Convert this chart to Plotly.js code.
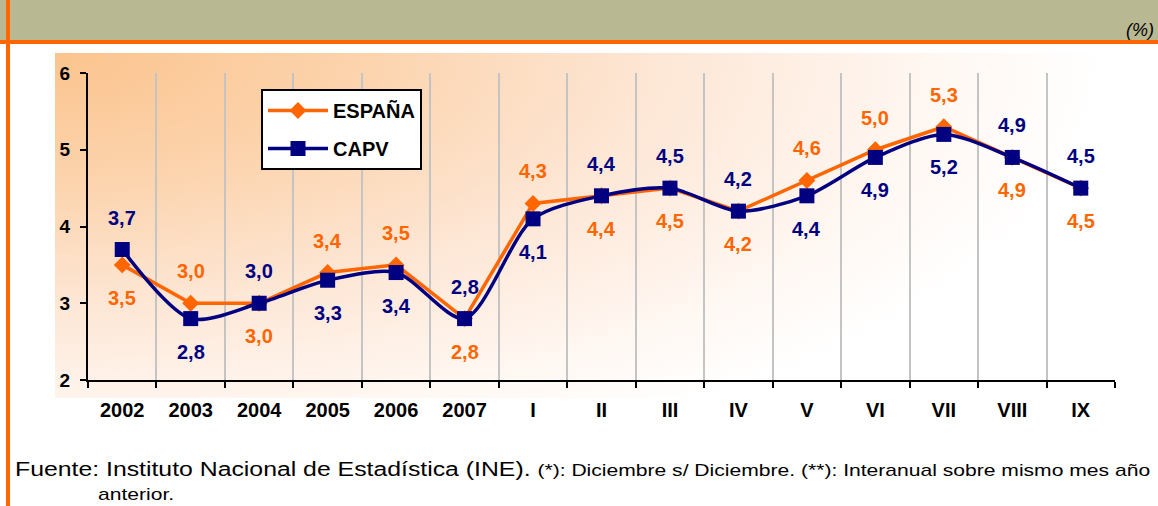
<!DOCTYPE html>
<html>
<head>
<meta charset="utf-8">
<script src="https://cdn.plot.ly/plotly-3.0.1.min.js"></script>
<style>
  html, body { margin: 0; padding: 0; background: #ffffff; }
  #wrap { position: relative; width: 1158px; height: 506px; overflow: hidden; }
  #bg { position: absolute; left: 55px; top: 53px; width: 1103px; height: 345px;
        background: radial-gradient(ellipse 1050px 440px at 0% 0%, #fbc48e 0%, #fcd4ae 30%, #fde7d6 58%, #fff6f0 82%, #ffffff 100%); }
  #chart { position: absolute; left: 0; top: 0; width: 1158px; height: 506px; }
  .foot { position: absolute; white-space: nowrap; font-family: Arial, "Liberation Sans", sans-serif;
          color: #000; transform-origin: 0 0; transform: scaleX(1.24); }
  #foot1 { left: 15px; top: 459px; font-size: 20px; line-height: 20px; }
  #foot1 span { font-size: 17px; }
  #foot2 { left: 98px; top: 486px; font-size: 17px; line-height: 17px; }
</style>
</head>
<body>
<div id="wrap">
  <div id="bg"></div>
  <div id="chart"></div>
  <div class="foot" id="foot1">Fuente: Instituto Nacional de Estadística (INE). <span>(*): Diciembre s/ Diciembre. (**): Interanual sobre mismo mes año</span></div>
  <div class="foot" id="foot2">anterior.</div>
</div>
<script>
// ---- data ----
const categories = ['2002','2003','2004','2005','2006','2007','I','II','III','IV','V','VI','VII','VIII','IX'];
const espana = [3.5, 3.0, 3.0, 3.4, 3.5, 2.8, 4.3, 4.4, 4.5, 4.2, 4.6, 5.0, 5.3, 4.9, 4.5];
const capv   = [3.7, 2.8, 3.0, 3.3, 3.4, 2.8, 4.1, 4.4, 4.5, 4.2, 4.4, 4.9, 5.2, 4.9, 4.5];
const espanaLabelSide = ['below','above','below','above','above','below','above','below','below','below','above','above','above','below','below'];
const capvLabelSide   = ['above','below','above','below','below','above','below','above','above','above','below','below','below','above','above'];
const seriesNames = ['ESPAÑA', 'CAPV'];
const yTicks = [2, 3, 4, 5, 6];

// ---- layout helpers (pixel -> paper) ----
const W = 1158, H = 506, L = 88, R = 1115, T = 73, B = 380;
const px = v => (v - L) / (R - L);
const py = v => (B - v) / (B - T);

const ORANGE = '#ff6600', NAVY = '#000080';
const FONT = 'Arial, "Liberation Sans", sans-serif';

const fmt = v => v.toFixed(1).replace('.', ',');

const traces = [
  {
    name: seriesNames[0], legendgroup: 'a', x: categories, y: espana, type: 'scatter', mode: 'lines+markers',
    line: { color: ORANGE, width: 3.5 },
    marker: { symbol: 'diamond', size: 13, color: ORANGE },
    hoverinfo: 'x+y'
  },
  {
    name: seriesNames[1], legendgroup: 'b', x: categories, y: capv, type: 'scatter', mode: 'lines+markers',
    line: { color: NAVY, width: 3.5, shape: 'spline', smoothing: 0.8 },
    marker: { symbol: 'square', size: 15, color: NAVY },
    hoverinfo: 'x+y'
  }
];

const annotations = [];
function addLabels(vals, sides, color) {
  vals.forEach((v, i) => {
    annotations.push({
      x: i, y: v, xref: 'x', yref: 'y', text: fmt(v), showarrow: false,
      yshift: sides[i] === 'above' ? 32 : -33,
      font: { family: FONT, size: 20, color: color, weight: 'bold' }
    });
  });
}
addLabels(espana, espanaLabelSide, ORANGE);
addLabels(capv, capvLabelSide, NAVY);

annotations.push({
  xref: 'paper', yref: 'paper', x: px(1156), y: py(30), xanchor: 'right', yanchor: 'middle',
  text: '<i>(%)</i>', showarrow: false, font: { family: FONT, size: 18, color: '#000' }
});

const shapes = [
  { type: 'rect', xref: 'paper', yref: 'paper', x0: px(0), x1: px(W), y0: py(40), y1: py(0),
    fillcolor: '#b8b893', line: { width: 0 }, layer: 'below' },
  { type: 'rect', xref: 'paper', yref: 'paper', x0: px(0), x1: px(W), y0: py(44), y1: py(40),
    fillcolor: ORANGE, line: { width: 0 }, layer: 'below' },
  { type: 'rect', xref: 'paper', yref: 'paper', x0: px(6), x1: px(10), y0: py(H), y1: py(0),
    fillcolor: ORANGE, line: { width: 0 }, layer: 'below' }
];

const layout = {
  width: W, height: H,
  margin: { l: L, r: W - R, t: T, b: H - B, pad: 0 },
  paper_bgcolor: 'rgba(0,0,0,0)', plot_bgcolor: 'rgba(0,0,0,0)',
  font: { family: FONT, color: '#000' },
  showlegend: true,
  legend: {
    x: px(261), y: py(89), xanchor: 'left', yanchor: 'top',
    bgcolor: '#ffffff', bordercolor: '#000000', borderwidth: 2,
    font: { family: FONT, size: 20, color: '#000', weight: 'bold' },
    itemwidth: 60, tracegroupgap: 9, traceorder: 'grouped'
  },
  xaxis: {
    type: 'category', range: [-0.5, 14.5], tickson: 'boundaries',
    showgrid: true, gridcolor: '#c4c4c4', gridwidth: 2,
    showline: true, linecolor: '#000', linewidth: 2,
    ticks: 'outside', ticklen: 6, tickwidth: 2, tickcolor: '#000',
    tickfont: { family: FONT, size: 20, color: '#000', weight: 'bold' },
    ticklabelstandoff: 11, fixedrange: true
  },
  yaxis: {
    range: [2, 6], tickvals: yTicks, ticktext: yTicks.map(String),
    showgrid: false, zeroline: false,
    showline: true, linecolor: '#000', linewidth: 2,
    ticks: 'outside', ticklen: 6, tickwidth: 2, tickcolor: '#000',
    tickfont: { family: FONT, size: 19, color: '#000', weight: 'bold' },
    ticklabelstandoff: 6, fixedrange: true
  },
  annotations: annotations,
  shapes: shapes
};

Plotly.newPlot('chart', traces, layout, { displayModeBar: false, staticPlot: true });
</script>
</body>
</html>
